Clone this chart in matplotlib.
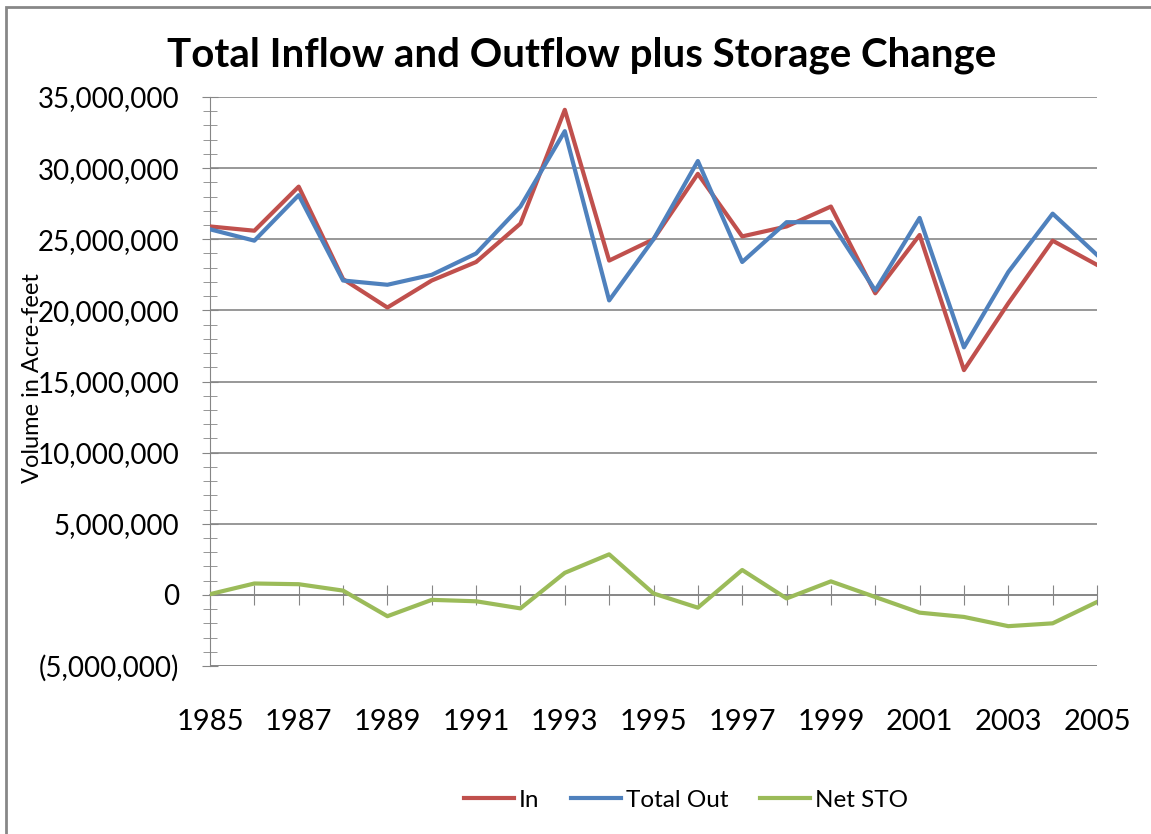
import matplotlib.pyplot as plt
from matplotlib.ticker import MultipleLocator, FuncFormatter
from matplotlib.patches import Rectangle

years = list(range(1985, 2006))
inflow = [25.9, 25.6, 28.7, 22.2, 20.2, 22.1, 23.4, 26.1, 34.1, 23.5, 25.0,
          29.6, 25.2, 25.9, 27.3, 21.2, 25.3, 15.8, 20.5, 24.9, 23.2]
total_out = [25.7, 24.9, 28.1, 22.1, 21.8, 22.5, 24.0, 27.3, 32.6, 20.7, 25.0,
             30.5, 23.4, 26.2, 26.2, 21.4, 26.5, 17.4, 22.7, 26.8, 23.9]
net_sto = [0.05, 0.8, 0.75, 0.3, -1.5, -0.35, -0.45, -0.95, 1.55, 2.85, 0.1,
           -0.9, 1.75, -0.25, 0.95, -0.15, -1.25, -1.55, -2.2, -2.0, -0.5]
# values above are in millions of acre-feet
inflow = [v * 1e6 for v in inflow]
total_out = [v * 1e6 for v in total_out]
net_sto = [v * 1e6 for v in net_sto]

plt.rcParams["font.family"] = ["Lato", "DejaVu Sans"]
grid_col = "#868686"

fig = plt.figure(figsize=(11.51, 8.34), dpi=100)
ax = fig.add_axes([210 / 1151, 1 - 666 / 834, 887 / 1151, 569 / 834])

# outer chart frame (only left and top edges visible in the original)
fig.patches.append(Rectangle((6 / 1151, -0.1), 1.2, 1 - 7 / 834 + 0.1,
                             transform=fig.transFigure, fill=False,
                             edgecolor="#878787", linewidth=2))

ax.plot(years, inflow, color="#C0504D", lw=3, label="In", zorder=3)
ax.plot(years, total_out, color="#4F81BD", lw=3, label="Total Out", zorder=3)
ax.plot(years, net_sto, color="#9BBB59", lw=3, label="Net STO", zorder=3)

ax.set_xlim(1985, 2005)
ax.set_ylim(-5e6, 35e6)

ax.yaxis.set_major_locator(MultipleLocator(5e6))
ax.yaxis.set_minor_locator(MultipleLocator(1e6))
ax.yaxis.set_major_formatter(FuncFormatter(
    lambda v, p: f"({abs(v):,.0f})" if v < 0 else f"{v:,.0f}"))
ax.grid(axis="y", which="major", color=grid_col, lw=1.2)
ax.set_axisbelow(True)

ax.spines[["top", "right"]].set_visible(False)
ax.spines["left"].set_color(grid_col)
ax.spines["bottom"].set_position(("data", 0))
ax.spines["bottom"].set_color(grid_col)
ax.spines["bottom"].set_linewidth(1.2)

ax.xaxis.set_major_locator(MultipleLocator(1))
ax.tick_params(axis="x", which="major", direction="inout", length=14,
               color=grid_col, labelbottom=False)
ax.tick_params(axis="y", which="major", direction="inout", length=12,
               color=grid_col, labelsize=20, pad=16)
ax.tick_params(axis="y", which="minor", direction="inout", length=10,
               color=grid_col)

# year labels sit at the bottom of the plot area, as in Excel
sec = ax.secondary_xaxis(0)
sec.set_xticks(years[::2])
sec.tick_params(length=0, labelsize=21, pad=31)
sec.spines["bottom"].set_visible(False)
ax.axhline(-5e6, color=grid_col, lw=1.2, zorder=1)

ax.set_ylabel("Volume in Acre-feet", fontsize=17, va="center")
ax.yaxis.set_label_coords((33 - 210) / 887, (666 - 378) / 569)
fig.text(0.505, 1 - 55 / 834, "Total Inflow and Outflow plus Storage Change",
         fontsize=29, fontweight="bold", ha="center", va="center")

ax.legend(loc="center", bbox_to_anchor=(686 / 1151, 1 - 800 / 834),
          bbox_transform=fig.transFigure, ncol=3, frameon=False,
          fontsize=17.5, handlelength=2.05, handletextpad=0.2,
          columnspacing=1.3)

plt.savefig("out.png", dpi=100)
